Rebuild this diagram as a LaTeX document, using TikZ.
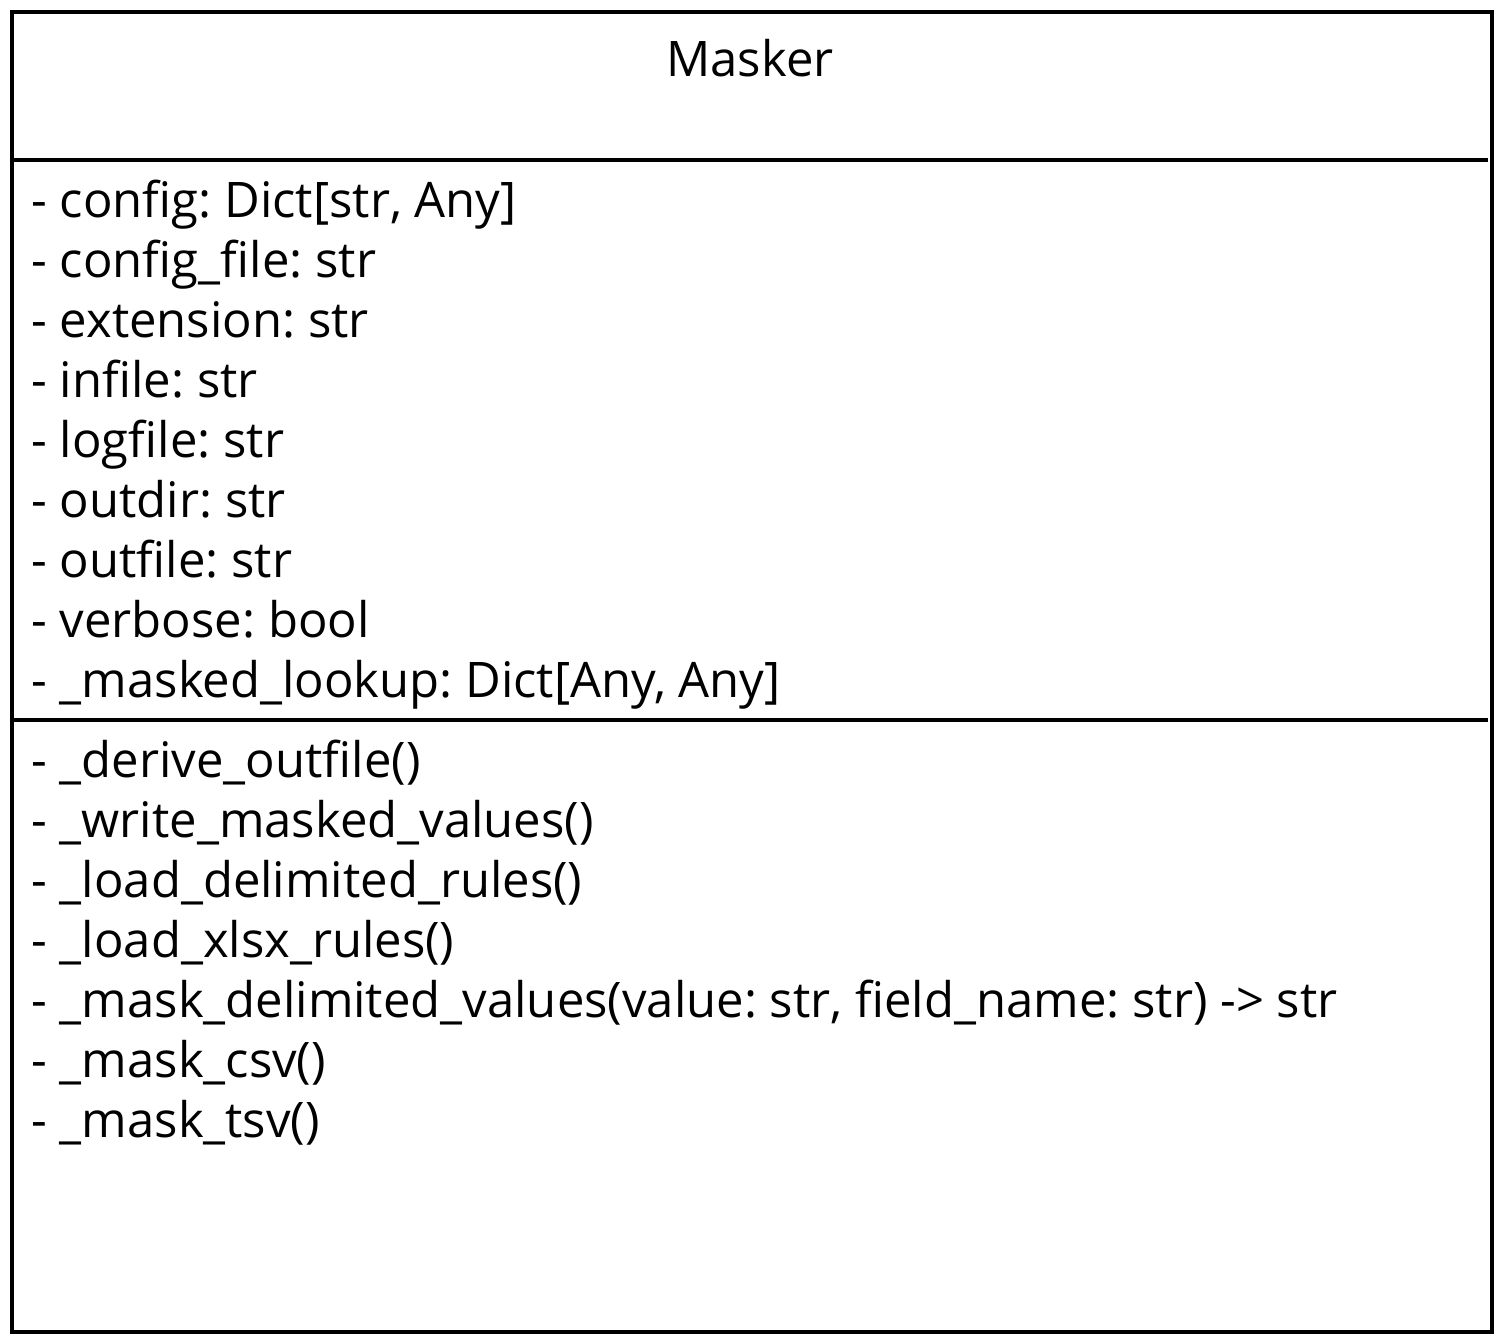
\documentclass[tikz,border=0pt]{standalone}
\usepackage{fontspec}
\setmainfont{Open Sans}
\usetikzlibrary{positioning}
\frenchspacing
\tikzset{
  member/.style={anchor=base west, inner sep=0pt, font=\fontsize{24.5}{30}\selectfont},
  boxline/.style={line width=2pt, draw=black},
}

\begin{document}
\begin{tikzpicture}[x=0.5pt,y=-0.5pt]
  \useasboundingbox (0,0) rectangle (1500,1340);

  % Caja de la clase
  \draw[boxline] (12,12) rectangle (1492,1332);

  % Nombre de la clase
  \node[member, anchor=base] (classname) at (750,76.7) {Masker};

  % Separadores de compartimentos
  \draw[boxline] (12,160) -- (1488,160);
  \draw[boxline] (12,720) -- (1488,720);

  % Atributos
  \foreach \txt [count=\i] in {%
      {- config: Dict[str, Any]},
      {- config\_file: str},
      {- extension: str},
      {- infile: str},
      {- logfile: str},
      {- outdir: str},
      {- outfile: str},
      {- verbose: bool},
      {- \_masked\_lookup: Dict[Any, Any]}}
    \node[member] (attr\i) at (31,{217.7+60*(\i-1)}) {\txt};

  % Metodos
  \foreach \txt [count=\i] in {%
      {- \_derive\_outfile()},
      {- \_write\_masked\_values()},
      {- \_load\_delimited\_rules()},
      {- \_load\_xlsx\_rules()},
      {- \_mask\_delimited\_values(value: str, field\_name: str) -> str},
      {- \_mask\_csv()},
      {- \_mask\_tsv()}}
    \node[member] (meth\i) at (31,{777.7+60*(\i-1)}) {\txt};
\end{tikzpicture}
\end{document}
